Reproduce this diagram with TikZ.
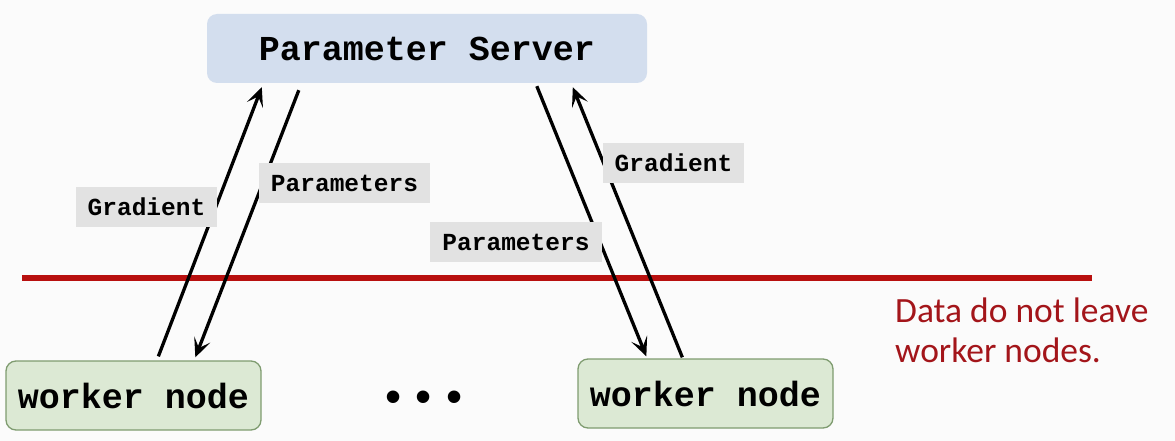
\documentclass[tikz,border=0pt]{standalone}
\usepackage{fontspec}
\setmonofont{Liberation Mono}
\newfontfamily\carlito{Carlito}
\newfontfamily\libsans{Liberation Sans}
\usetikzlibrary{arrows.meta}
\definecolor{psblue}{HTML}{D3DEEE}
\definecolor{wgreen}{HTML}{DCE9D4}
\definecolor{wborder}{HTML}{7F9C70}
\definecolor{lblgray}{HTML}{E2E2E2}
\definecolor{redline}{HTML}{B8100F}
\definecolor{redtext}{HTML}{A3151A}
\definecolor{bgwhite}{HTML}{FBFBFB}
\tikzset{
  psbox/.style={fill=psblue, rounded corners=10pt, minimum width=440pt, minimum height=69pt, inner sep=0pt,
    font=\fontsize{35}{40}\selectfont\ttfamily\bfseries},
  workerbox/.style={fill=wgreen, draw=wborder, line width=1.3pt, rounded corners=10pt, minimum width=255pt, minimum height=69pt, inner sep=0pt,
    font=\fontsize{35}{40}\selectfont\ttfamily\bfseries},
  lbl/.style={fill=lblgray, minimum height=40pt, inner sep=0pt,
    font=\fontsize{24.5}{28}\selectfont\ttfamily\bfseries},
  flow/.style={line width=3.3pt, -{Stealth[length=19pt,width=17pt,inset=9pt]}},
}
\begin{document}
\begin{tikzpicture}[x=1pt,y=-1pt]
\fill[bgwhite] (0,0) rectangle (1175,441);
\useasboundingbox (0,0) rectangle (1175,441);

\node[psbox] (ps) at (427,48.5) {Parameter Server};
\node[workerbox] (w1) at (133.5,395.5) {worker node};
\node[workerbox] (w2) at (705.5,393.5) {worker node};
\node[font=\fontsize{46}{46}\selectfont\libsans, inner sep=0pt] (dots) at (424,402) {•\kern14pt•\kern14pt•};

\draw[redline, line width=6pt] (22,278) coordinate (rl1) -- (1092,278) coordinate (rl2);

\draw[flow] ([xshift=153pt,yshift=4pt]w1.north west) -- ([xshift=55pt,yshift=-4pt]ps.south west);
\draw[flow] ([xshift=92pt,yshift=-7pt]ps.south west) -- ([xshift=190pt,yshift=3pt]w1.north west);
\draw[flow] ([xshift=330pt,yshift=-3pt]ps.south west) -- ([xshift=69pt,yshift=2pt]w2.north west);
\draw[flow] ([xshift=105pt,yshift=1pt]w2.north west) -- ([xshift=366pt,yshift=-4pt]ps.south west);

\node[lbl, minimum width=141pt] (gradL) at (146.5,207) {Gradient};
\node[lbl, minimum width=171pt] (paramL) at (344.5,183) {Parameters};
\node[lbl, minimum width=172pt] (paramR) at (516,242) {Parameters};
\node[lbl, minimum width=141pt] (gradR) at (673.5,163) {Gradient};

\node[anchor=base west, align=left, inner sep=0pt, text=redtext,
  font=\fontsize{35.5}{40}\selectfont\carlito] (note) at (895,362) {Data do not leave\\worker nodes.};
\end{tikzpicture}
\end{document}
